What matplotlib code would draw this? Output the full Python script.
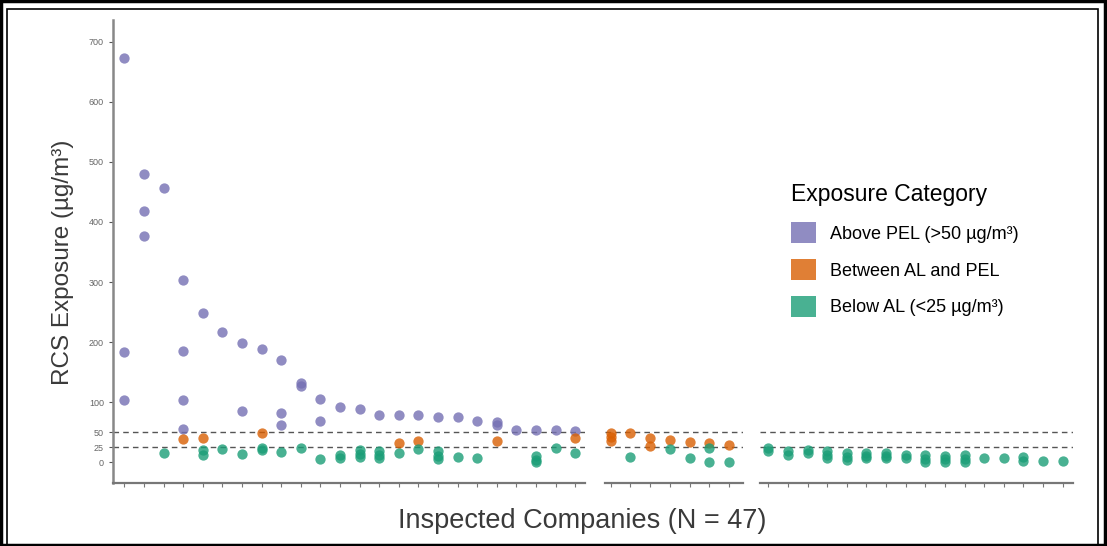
# RCS exposure by inspected company, three panels with gaps

import matplotlib.pyplot as plt
from matplotlib.patches import Rectangle, Patch

# company index (0..46) and exposure value for each sample
above_co = [0, 0, 0, 1, 1, 1, 2, 3, 3, 3, 3, 4, 5, 6, 6, 7, 8, 8, 8, 9, 9,
            10, 10, 11, 12, 13, 14, 15, 16, 17, 18, 19, 19, 20, 21, 22, 23]
above_val = [672, 183, 103, 479, 418, 376, 456, 303, 186, 103, 55, 248, 217, 198, 85, 189,
             171, 82, 62, 132, 127, 106, 68, 92, 89, 78, 78, 78, 75, 75, 69, 67, 62,
             54, 54, 53, 52]

between_co = [3, 4, 7, 14, 15, 19, 23, 24, 24, 24, 25, 26, 26, 27, 28, 29, 30]
between_val = [39, 40, 48, 32, 36, 35, 41, 48, 42, 36, 49, 41, 27, 37, 33, 32, 29]

below_co = [2, 4, 4, 5, 6, 7, 7, 8, 9, 10, 11, 11, 12, 12, 12, 13, 13, 13, 14, 15,
            16, 16, 16, 17, 18, 21, 21, 21, 22, 23, 25, 27, 28, 29, 29, 30,
            31, 31, 32, 32, 33, 33, 34, 34, 34, 35, 35, 35, 36, 36, 36, 37, 37, 37,
            38, 38, 39, 39, 39, 40, 40, 40, 41, 41, 41, 42, 43, 44, 44, 45, 46]
below_val = [15, 20, 12, 22, 14, 24, 20, 17, 24, 5, 13, 7, 20, 14, 9, 18, 12, 7, 16, 22,
             18, 11, 5, 9, 8, 10, 4, 0, 24, 16, 9, 22, 7, 24, 1, 1,
             23, 18, 19, 13, 20, 15, 19, 13, 7, 15, 9, 4, 16, 11, 7, 15, 10, 7,
             13, 7, 12, 6, 0, 10, 5, 0, 12, 5, 0, 8, 8, 9, 2, 2, 2]

panel_sizes = [24, 7, 16]
y_ticks = [0, 25, 50, 100, 200, 300, 400, 500, 600, 700]

colors = {"above": "#7570b3", "between": "#d95f02", "below": "#1b9e77"}
series = [("above", above_co, above_val), ("between", between_co, between_val),
          ("below", below_co, below_val)]

fig = plt.figure(figsize=(11.07, 5.46), dpi=100)
plt.rcParams['font.family'] = ['Liberation Sans', 'DejaVu Sans']

# panel boxes in figure fractions
boxes = [(0.1021, 0.4264, -0.58, 23.5), (0.5465, 0.1244, -0.29, 6.68),
         (0.6866, 0.2827, -0.42, 15.53)]

start = 0
for p, (left, width, x0, x1) in enumerate(boxes):
    n = panel_sizes[p]
    ax = fig.add_axes([left, 0.1154, width, 0.848])
    for key, cos, vals in series:
        xs = [c - start for c in cos if start <= c < start + n]
        ys = [v for c, v in zip(cos, vals) if start <= c < start + n]
        ax.scatter(xs, ys, s=55, color=colors[key], alpha=0.8, linewidths=0, zorder=3)
    for h in [25, 50]:
        ax.axhline(h, color="#555555", lw=1, ls=(0, (4, 3)), zorder=2)
    ax.set_xlim(x0, x1)
    ax.set_ylim(-34.4, 736)
    ax.set_xticks(range(n))
    ax.set_xticklabels([])
    ax.tick_params(axis="x", length=3, width=0.8, color="#777777")
    for s in ["top", "right", "left"]:
        ax.spines[s].set_visible(False)
    ax.spines["bottom"].set_color("#777777")
    ax.spines["bottom"].set_linewidth(1.6)
    if p == 0:
        ax.spines["left"].set_visible(True)
        ax.spines["left"].set_color("#888888")
        ax.spines["left"].set_linewidth(1.8)
        ax.set_yticks(y_ticks)
        ax.set_yticklabels([str(t) for t in y_ticks], fontsize=6.5, color="#666666")
        ax.tick_params(axis="y", length=3, width=0.8, color="#555555")
        ax.set_ylabel("RCS Exposure (µg/m³)", fontsize=17.5, color="#3a3a3a")
        ax.yaxis.set_label_coords(-0.082, 0.477)
    else:
        ax.set_yticks([])
    start += n

fig.text(0.526, 0.046, "Inspected Companies (N = 47)", fontsize=19.5, color="#3a3a3a",
         ha="center", va="center")

handles = [Patch(facecolor=colors["above"], alpha=0.8, label="Above PEL (>50 µg/m³)"),
           Patch(facecolor=colors["between"], alpha=0.8, label="Between AL and PEL"),
           Patch(facecolor=colors["below"], alpha=0.8, label="Below AL (<25 µg/m³)")]
leg = fig.legend(handles=handles, title="Exposure Category", loc="upper left",
                 bbox_to_anchor=(0.7, 0.695), frameon=False, fontsize=13,
                 title_fontsize=16.5, handlelength=1.4, handleheight=1.4,
                 labelspacing=0.88, handletextpad=0.75)
leg._legend_box.align = "left"
leg._legend_box.sep = 12

# double frame around the picture
fig.patches.append(Rectangle((0.001, 0.001), 0.997, 0.997, transform=fig.transFigure,
                             fill=False, lw=2.5, ec="black"))
fig.patches.append(Rectangle((0.0065, 0.0), 0.9855, 0.983, transform=fig.transFigure,
                             fill=False, lw=1.2, ec="black"))

plt.savefig("out.png", dpi=100)
